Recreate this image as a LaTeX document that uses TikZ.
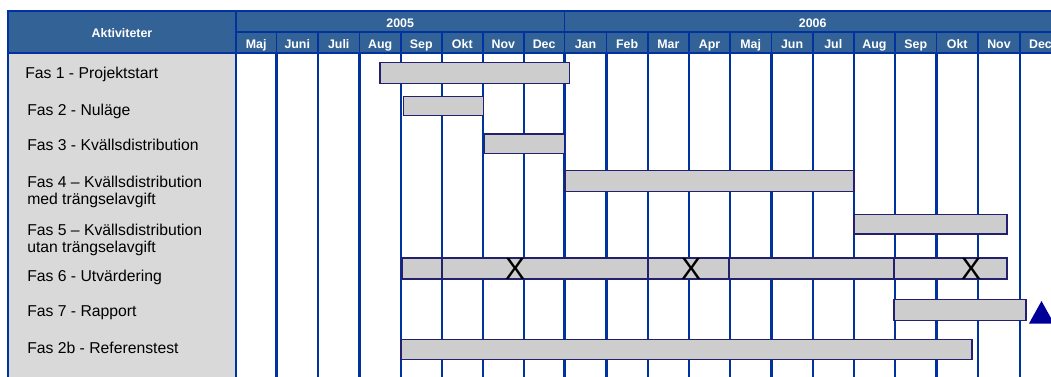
\documentclass[tikz,border=0pt]{standalone}
\usepackage{fontspec}
\setmainfont{Liberation Sans}
\usetikzlibrary{fit}
\definecolor{hdrfill}{RGB}{51,99,150}
\definecolor{gridblue}{RGB}{0,51,160}
\definecolor{barline}{RGB}{36,32,112}
\definecolor{barfill}{RGB}{205,205,205}
\definecolor{actgray}{RGB}{217,217,217}
\definecolor{milestoneblue}{RGB}{0,0,153}
\tikzset{
  hdrcell/.style={draw=gridblue, line width=1.4pt, fill=hdrfill},
  hdrtext/.style={text=white, font=\bfseries\fontsize{9.3}{11}\selectfont, inner sep=0pt},
  gridline/.style={draw=gridblue, line width=1.8pt},
  fasbar/.style={draw=barline, line width=0.8pt, fill=barfill, inner sep=0pt},
  faslabel/.style={anchor=base west, align=left, inner sep=0pt, font=\fontsize{11.8}{13.2}\selectfont},
  crossmark/.style={inner sep=0pt, font=\fontsize{23}{23}\selectfont},
}

\begin{document}
\begin{tikzpicture}[x=0.75pt,y=-0.75pt]
\useasboundingbox (0,0) rectangle (1051,376);
\clip (0,0) rectangle (1051,376);
% activity column and header
\draw[draw=gridblue, line width=1pt, fill=actgray] (8,53) rectangle (236,380);
\draw[hdrcell] (8,11) rectangle (236,53);
\node[hdrtext, anchor=base] (act) at (122,37.7) {Aktiviteter};
\draw[hdrcell] (236,11) rectangle (564.5,32);
\draw[hdrcell] (564.5,11) rectangle (1061,32);
\node[hdrtext, anchor=base] (y2005) at (400.2,27.3) {2005};
\node[hdrtext, anchor=base] (y2006) at (812.7,27.3) {2006};
\foreach \mon/\xl/\xr [count=\i] in {Maj/236/276.5, Juni/276.5/318, Juli/318/359.5, Aug/359.5/400.8,
    Sep/400.8/441.8, Okt/441.8/482.8, Nov/482.8/523.8, Dec/523.8/564.5,
    Jan/564.5/606.5, Feb/606.5/647.8, Mar/647.8/689, Apr/689/730,
    Maj/730/771.5, Jun/771.5/812.7, Jul/812.7/853.8, Aug/853.8/895,
    Sep/895/936.5, Okt/936.5/978, Nov/978/1020, Dec/1020/1061} {
  \draw[hdrcell] (\xl,32) rectangle (\xr,53);
  \node[hdrtext, anchor=base] (mon\i) at ({(\xl+\xr)/2},48.3) {\mon};
  \draw[gridline] (\xr,53) -- (\xr,380);
}
\draw[gridline] (236,53) -- (236,380);

% activities
\node[faslabel] (fas1) at (25,78.3) {Fas 1 - Projektstart};
\node[faslabel] (fas2) at (27,115.7) {Fas 2 - Nuläge};
\node[faslabel] (fas3) at (27,150.7) {Fas 3 - Kvällsdistribution};
\node[faslabel] (fas4) at (27,204.6) {Fas 4 – Kvällsdistribution\\med trängselavgift};
\node[faslabel] (fas5) at (27,252.6) {Fas 5 – Kvällsdistribution\\utan trängselavgift};
\node[faslabel] (fas6) at (27,281) {Fas 6 - Utvärdering};
\node[faslabel] (fas7) at (27,316.7) {Fas 7 - Rapport};
\node[faslabel] (fas2b) at (27,353.3) {Fas 2b - Referenstest};

% bars
\node[fasbar, fit={(380,62.5) (569.5,83.5)}] (bar1) {};
\node[fasbar, fit={(403.5,96.5) (483.5,115.5)}] (bar2) {};
\node[fasbar, fit={(484.5,134) (564.5,153.5)}] (bar3) {};
\node[fasbar, fit={(565,170.5) (854,191.5)}] (bar4) {};
\node[fasbar, fit={(854,214.5) (1007,234)}] (bar5) {};
\foreach \xl/\xr [count=\j] in {402/442, 442/648, 648/729, 729/894, 894/1007}
  \node[fasbar, fit={(\xl,258) (\xr,279)}] (bar6-\j) {};
\node[fasbar, fit={(894,299.5) (1026,320.5)}] (bar7) {};
\node[fasbar, fit={(401,339.5) (972,359.5)}] (bar2b) {};

% milestones
\node[crossmark] (cross1) at (515,269.3) {X};
\node[crossmark] (cross2) at (691,269.3) {X};
\node[crossmark] (cross3) at (971,269.3) {X};
\fill[milestoneblue] (1029,323.5) -- (1041.5,301) -- (1054,323.5) -- cycle;
\end{tikzpicture}
\end{document}
